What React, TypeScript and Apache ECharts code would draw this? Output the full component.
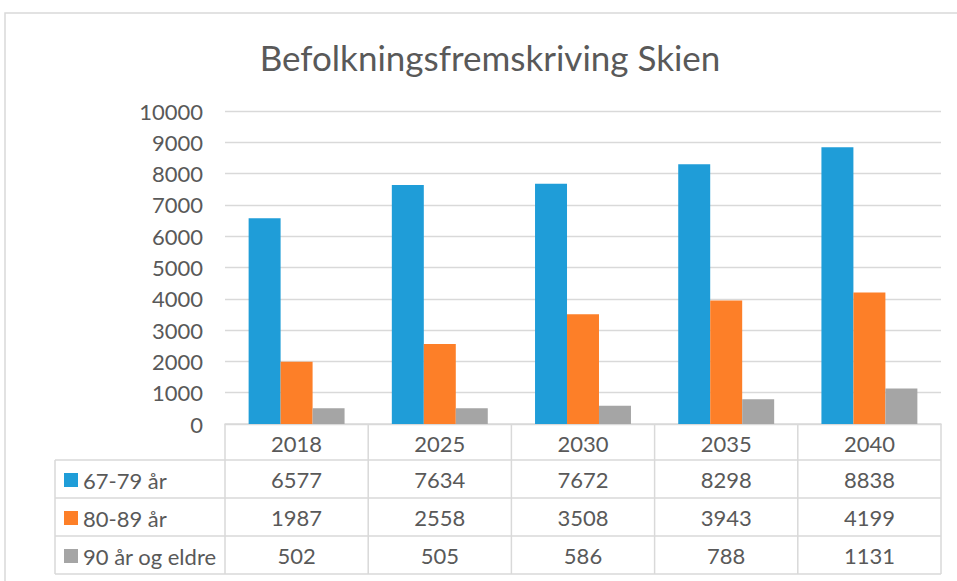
import React, { useEffect, useRef } from "react";
import * as echarts from "echarts";

const years = ["2018", "2025", "2030", "2035", "2040"];
const seriesNames = ["67-79 år", "80-89 år", "90 år og eldre"];
const age6779 = [6577, 7634, 7672, 8298, 8838];
const age8089 = [1987, 2558, 3508, 3943, 4199];
const age90 = [502, 505, 586, 788, 1131];
const colors = ["#1f9dd8", "#fd7f28", "#a5a5a5"];
const titleText = "Befolkningsfremskriving Skien";

const FONT = "Lato, 'Open Sans', sans-serif";
const TEXT = "#595959";
const LINE = "#d9d9d9";
const FS = 22;

export default function App() {
  const ref = useRef<HTMLDivElement>(null);
  useEffect(() => {
    if (!ref.current) return;
    const chart = echarts.init(ref.current, null, { renderer: "svg" });
    const H = 581;
    const gridLeft = 225;
    const gridRight = 16;
    const gridTop = 111;
    const gridBottom = 157;
    const axisY = H - gridBottom;
    const headerH = 36;
    const rowH = 38;
    const tableLeft = 55;
    const rows = [age6779, age8089, age90];

    chart.setOption({
      animation: false,
      textStyle: { fontFamily: FONT },
      grid: { left: gridLeft, right: gridRight, top: gridTop, bottom: gridBottom, containLabel: false },
      legend: {
        data: seriesNames,
        orient: "vertical",
        left: 64,
        top: 468,
        padding: 0,
        icon: "rect",
        itemWidth: 14,
        itemHeight: 14,
        itemGap: 14,
        selectedMode: false,
        textStyle: { fontFamily: FONT, fontSize: FS, color: TEXT, lineHeight: 24 },
      },
      xAxis: {
        type: "category",
        data: years,
        boundaryGap: true,
        axisLine: { show: true, lineStyle: { color: LINE, width: 1.5 } },
        axisTick: { show: false },
        axisLabel: { fontFamily: FONT, fontSize: FS, color: TEXT, margin: 8 },
      },
      yAxis: {
        type: "value",
        min: 0,
        max: 10000,
        interval: 1000,
        axisLine: { show: false },
        axisTick: { show: false },
        splitLine: { lineStyle: { color: LINE, width: 1.3 } },
        axisLabel: { fontFamily: FONT, fontSize: FS, color: TEXT, margin: 22, formatter: (v: number) => String(v) },
      },
      series: rows.map((d, i) => ({
        type: "bar",
        name: seriesNames[i],
        data: d,
        barGap: "0%",
        barCategoryGap: "33%",
        itemStyle: { color: colors[i] },
      })),
    });

    const centers = years.map((y) => chart.convertToPixel({ xAxisIndex: 0 }, y) as number);
    const colW = centers[1] - centers[0];
    const bounds = [centers[0] - colW / 2, ...centers.map((c) => c + colW / 2)];
    const tableBottom = axisY + headerH + rowH * 3;
    const graphic: any[] = [
      {
        type: "rect",
        shape: { x: 5, y: 13, width: 1000, height: 700 },
        style: { fill: "none", stroke: LINE, lineWidth: 1.5 },
        silent: true,
      },
      {
        type: "text",
        x: 490,
        y: 57,
        style: {
          text: titleText,
          fontFamily: FONT,
          fontSize: 35,
          fill: TEXT,
          textAlign: "center",
          textVerticalAlign: "middle",
        },
      },
    ];
    bounds.forEach((bx) => {
      graphic.push({
        type: "line",
        shape: { x1: bx, y1: axisY, x2: bx, y2: tableBottom },
        style: { stroke: LINE, lineWidth: 1.5 },
      });
    });
    graphic.push({
      type: "line",
      shape: { x1: tableLeft, y1: axisY + headerH, x2: tableLeft, y2: tableBottom },
      style: { stroke: LINE, lineWidth: 1.5 },
    });
    for (let r = 0; r <= 3; r++) {
      const y = axisY + headerH + rowH * r;
      graphic.push({
        type: "line",
        shape: { x1: tableLeft, y1: y, x2: bounds[bounds.length - 1], y2: y },
        style: { stroke: LINE, lineWidth: 1.5 },
      });
    }
    rows.forEach((d, r) => {
      const cy = axisY + headerH + rowH * r + rowH / 2;
      d.forEach((v, c) => {
        graphic.push({
          type: "text",
          x: centers[c],
          y: cy,
          style: {
            text: String(v),
            fontFamily: FONT,
            fontSize: FS,
            fill: TEXT,
            textAlign: "center",
            textVerticalAlign: "middle",
          },
        });
      });
    });
    chart.setOption({ graphic });

    return () => chart.dispose();
  }, []);
  return <div ref={ref} style={{ position: "fixed", left: 0, top: 0, width: 957, height: 581, background: "#fff" }} />;
}
